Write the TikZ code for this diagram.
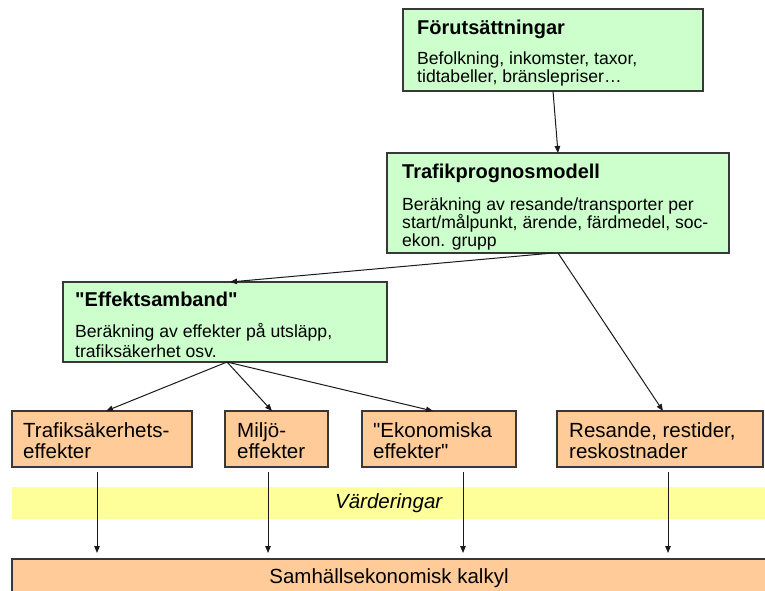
\documentclass[tikz,border=0pt]{standalone}
\usepackage{fontspec}
\setmainfont{Liberation Sans}[Ligatures=TeXOff]
\usetikzlibrary{arrows.meta}
\definecolor{gfill}{HTML}{CCFFCC}
\definecolor{ofill}{HTML}{FFCC99}
\definecolor{yfill}{HTML}{FFFF99}
\definecolor{boxline}{HTML}{383838}
\definecolor{arrcol}{HTML}{1A1A1A}
\begin{document}
\begin{tikzpicture}[x=1pt,y=-1pt,
  box/.style={draw=boxline, line width=1.4pt, anchor=north west, inner sep=0pt, outer sep=0pt},
  gbox/.style={box, fill=gfill},
  obox/.style={box, fill=ofill},
  ttl/.style={anchor=base west, inner sep=0pt, font=\fontsize{20}{20}\selectfont\bfseries},
  body/.style={anchor=base west, inner sep=0pt, font=\fontsize{17.6}{18}\selectfont},
  big/.style={anchor=base west, inner sep=0pt, font=\fontsize{20.5}{21}\selectfont},
  arr/.style={draw=arrcol, line width=1pt, -{Triangle[length=7pt,width=5.5pt]}}]
\clip (0,0) rectangle (765,590);
\fill[white] (0,0) rectangle (765,590);

% green boxes
\node[gbox, minimum width=300pt, minimum height=82pt] (fore) at (403,9) {};
\node[ttl] (fore-t) at (417,34) {Förutsättningar};
\node[body] (fore-1) at (417,64) {Befolkning, inkomster, taxor,};
\node[body] (fore-2) at (417,82) {tidtabeller, bränslepriser…};

\node[gbox, minimum width=342pt, minimum height=100pt] (trafik) at (387,153) {};
\node[ttl] (trafik-t) at (402,178) {Trafikprognosmodell};
\node[body] (trafik-1) at (402,210) {Beräkning av resande/transporter per};
\node[body] (trafik-2) at (402,228) {start/målpunkt, ärende, färdmedel, soc-};
\node[body] (trafik-3) at (402,246) {ekon. grupp};

\node[gbox, minimum width=324pt, minimum height=80pt] (effekt) at (63,282) {};
\node[ttl] (effekt-t) at (75,306) {"Effektsamband"};
\node[body] (effekt-1) at (75,337) {Beräkning av effekter på utsläpp,};
\node[body] (effekt-2) at (75,357) {trafiksäkerhet osv.};

% orange boxes
\node[obox, minimum width=180pt, minimum height=56pt] (tse) at (12,411) {};
\node[big] (tse-1) at (23,437) {Trafiksäkerhets-};
\node[big] (tse-2) at (23,458) {effekter};

\node[obox, minimum width=103pt, minimum height=56pt] (milj) at (225,411) {};
\node[big] (milj-1) at (237,437) {Miljö-};
\node[big] (milj-2) at (237,458) {effekter};

\node[obox, minimum width=154pt, minimum height=56pt] (ekon) at (362,411) {};
\node[big] (ekon-1) at (373,437) {"Ekonomiska};
\node[big] (ekon-2) at (373,458) {effekter"};

\node[obox, minimum width=206pt, minimum height=56pt] (resa) at (557,411) {};
\node[big] (resa-1) at (569,437) {Resande, restider,};
\node[big] (resa-2) at (569,458) {reskostnader};

% band
\node[fill=yfill, anchor=north west, inner sep=0pt, minimum width=753pt, minimum height=32pt,
      font=\fontsize{20.5}{21}\selectfont\itshape] (band) at (12,487) {Värderingar};

% bottom box
\node[obox, minimum width=770pt, minimum height=45pt] (samh) at (12,559) {};
\node[font=\fontsize{20.5}{21}\selectfont, inner sep=0pt] (samh-t) at (389,578) {Samhällsekonomisk kalkyl};

% arrows
\draw[arr] ([xshift=150pt]fore.south west) -- ([xshift=171pt]trafik.north west);
\draw[arr] ([xshift=166pt]trafik.south west) -- ([xshift=167pt]effekt.north west);
\draw[arr] ([xshift=171pt]trafik.south west) -- ([xshift=106pt]resa.north west);
\draw[arr] ([xshift=164pt]effekt.south west) -- ([xshift=94pt]tse.north west);
\draw[arr] ([xshift=164pt]effekt.south west) -- ([xshift=47pt]milj.north west);
\draw[arr] ([xshift=164pt]effekt.south west) -- ([xshift=71pt]ekon.north west);

\draw[arr, shorten <=5pt, shorten >=6pt] ([xshift=85pt]tse.south west) -- ([xshift=85pt]tse.south west |- samh.north);
\draw[arr, shorten <=5pt, shorten >=6pt] ([xshift=43pt]milj.south west) -- ([xshift=43pt]milj.south west |- samh.north);
\draw[arr, shorten <=5pt, shorten >=6pt] ([xshift=101pt]ekon.south west) -- ([xshift=101pt]ekon.south west |- samh.north);
\draw[arr, shorten <=5pt, shorten >=6pt] ([xshift=111pt]resa.south west) -- ([xshift=111pt]resa.south west |- samh.north);
\end{tikzpicture}
\end{document}
